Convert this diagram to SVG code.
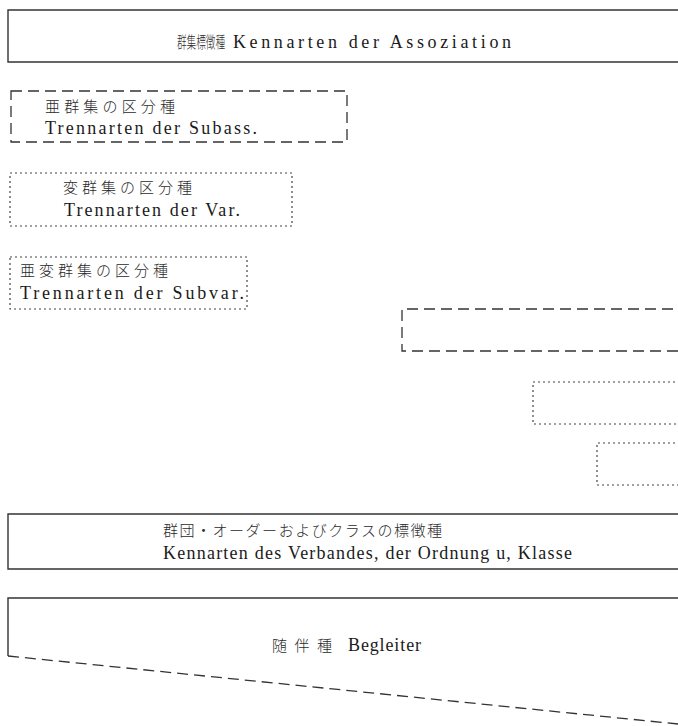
<svg xmlns="http://www.w3.org/2000/svg" width="678" height="726" viewBox="0 0 678 726">
<style>
.solid{fill:none;stroke:#333;stroke-width:1.4}
.dash{fill:none;stroke:#333;stroke-width:1.3;stroke-dasharray:11 6}
.dot{fill:none;stroke:#444;stroke-width:1.2;stroke-dasharray:2 3}
.lat{font-family:"Liberation Serif","Times New Roman",serif;font-size:18px;fill:#1a1a1a}
.cjk{font-family:"Noto Sans CJK JP","Noto Sans CJK SC",sans-serif;font-size:15px;fill:#2a2a2a;font-weight:300}
</style>
<rect width="678" height="726" fill="#fff"/>
<g id="assoziation">
<path class="solid" d="M690,10 H8 V62 H690"/>
<text class="cjk" transform="translate(177,48) scale(0.6,1)" style="font-size:16px">群集標徴種</text>
<text class="lat" x="233" y="48" textLength="278" lengthAdjust="spacing">Kennarten der Assoziation</text>
</g>
<g id="subass">
<rect class="dash" x="11" y="91" width="336" height="51"/>
<text class="cjk" x="45" y="112" textLength="130" lengthAdjust="spacing">亜群集の区分種</text>
<text class="lat" x="45" y="134" textLength="212" lengthAdjust="spacing">Trennarten der Subass.</text>
</g>
<g id="var">
<rect class="dot" x="10" y="173" width="282" height="53"/>
<text class="cjk" x="63" y="193" textLength="129" lengthAdjust="spacing">変群集の区分種</text>
<text class="lat" x="64" y="216" textLength="176" lengthAdjust="spacing">Trennarten der Var.</text>
</g>
<g id="subvar">
<rect class="dot" x="10" y="257" width="237" height="52"/>
<text class="cjk" x="20" y="276" textLength="148" lengthAdjust="spacing">亜変群集の区分種</text>
<text class="lat" x="20" y="299" textLength="224" lengthAdjust="spacing">Trennarten der Subvar.</text>
</g>
<g id="right-subass">
<path class="dash" d="M690,309 H402 V351 H690"/>
</g>
<g id="right-var">
<path class="dot" d="M690,382 H533 V424 H690"/>
</g>
<g id="right-subvar">
<path class="dot" d="M690,443 H597 V485 H690"/>
</g>
<g id="verband">
<path class="solid" d="M690,514 H8 V569 H690"/>
<text class="cjk" x="163" y="536" textLength="279" lengthAdjust="spacing">群団・オーダーおよびクラスの標徴種</text>
<text class="lat" x="163" y="559" textLength="409" lengthAdjust="spacing">Kennarten des Verbandes, der Ordnung u, Klasse</text>
</g>
<g id="begleiter">
<path class="solid" d="M690,598 H8 V656"/>
<text class="cjk" x="272" y="651" textLength="60" lengthAdjust="spacing">随伴種</text>
<text class="lat" x="348" y="651" textLength="73" lengthAdjust="spacing">Begleiter</text>
</g>
<g id="connectors">
<path class="dash" d="M8,656 L678,724"/>
</g>
</svg>
